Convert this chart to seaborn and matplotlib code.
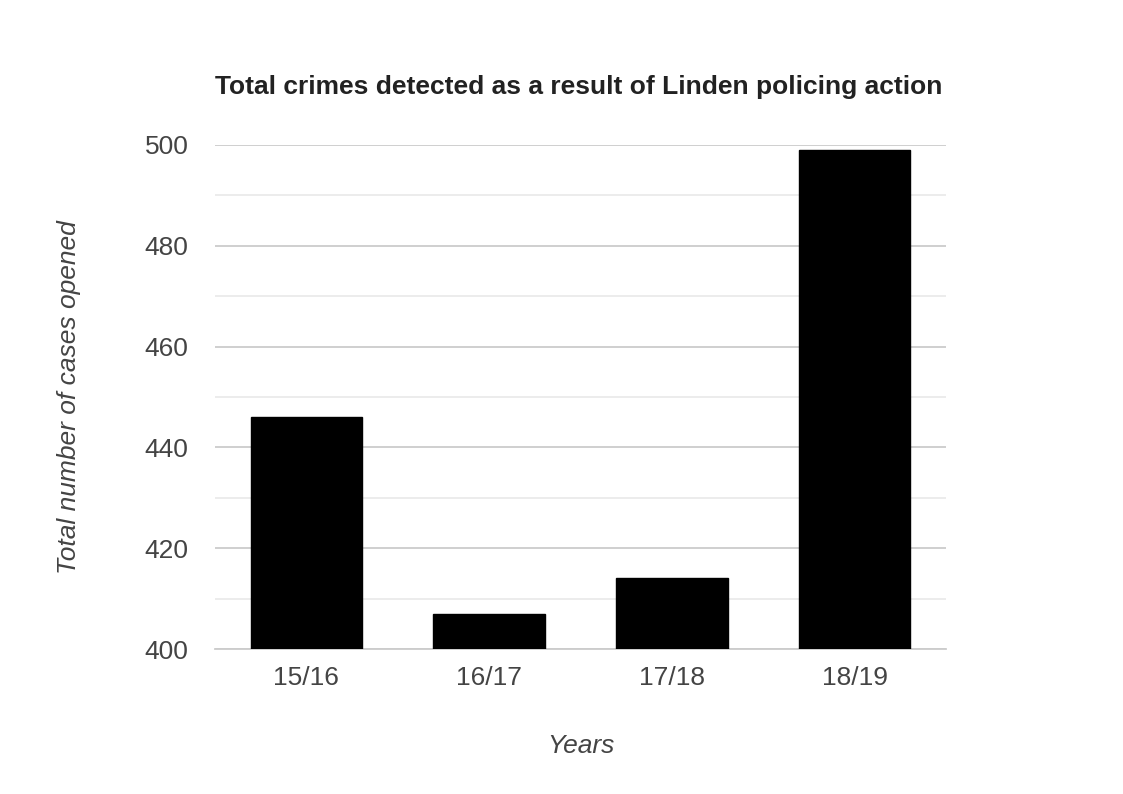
import matplotlib
matplotlib.use('Agg')
import matplotlib.pyplot as plt
import seaborn as sns
import pandas as pd

# Dados
anos = ['15/16', '16/17', '17/18', '18/19']
casos = [446, 407, 414, 499]

df = pd.DataFrame({'ano': anos, 'casos': casos})

sns.set_style('white')
plt.rcParams['font.family'] = ['Liberation Sans', 'DejaVu Sans']

fig = plt.figure(figsize=(11.23, 7.94), dpi=100)
ax = fig.add_axes([0.1915, 0.1826, 0.6509, 0.6348])

sns.barplot(data=df, x='ano', y='casos', color='black', width=0.61, ax=ax, zorder=3)
for p in ax.patches:
    p.set_facecolor('black')
    p.set_edgecolor('black')

ax.set_ylim(400, 500)
ax.set_yticks([400, 420, 440, 460, 480, 500])
ax.set_yticks([410, 430, 450, 470, 490], minor=True)
ax.grid(axis='y', which='major', color='#cccccc', linewidth=1.3, zorder=0)
ax.grid(axis='y', which='minor', color='#ebebeb', linewidth=1.3, zorder=0)
ax.grid(axis='x', visible=False)
ax.set_xlim(-0.5, 3.5)

for s in ['top', 'right', 'left']:
    ax.spines[s].set_visible(False)
ax.spines['bottom'].set_color('#cccccc')
ax.spines['bottom'].set_linewidth(1.3)

ax.tick_params(axis='both', which='both', length=0, labelsize=19, colors='#444444', pad=12)
ax.tick_params(axis='y', pad=19)

ax.set_xlabel('Years', fontsize=19, style='italic', color='#444444', labelpad=32)
ax.set_ylabel('Total number of cases opened', fontsize=19, style='italic', color='#444444', labelpad=46)

fig.text(0.1915, 0.89, 'Total crimes detected as a result of Linden policing action',
         fontsize=19, fontweight='bold', color='#222222', ha='left', va='center')

plt.savefig('out.png', dpi=100)
